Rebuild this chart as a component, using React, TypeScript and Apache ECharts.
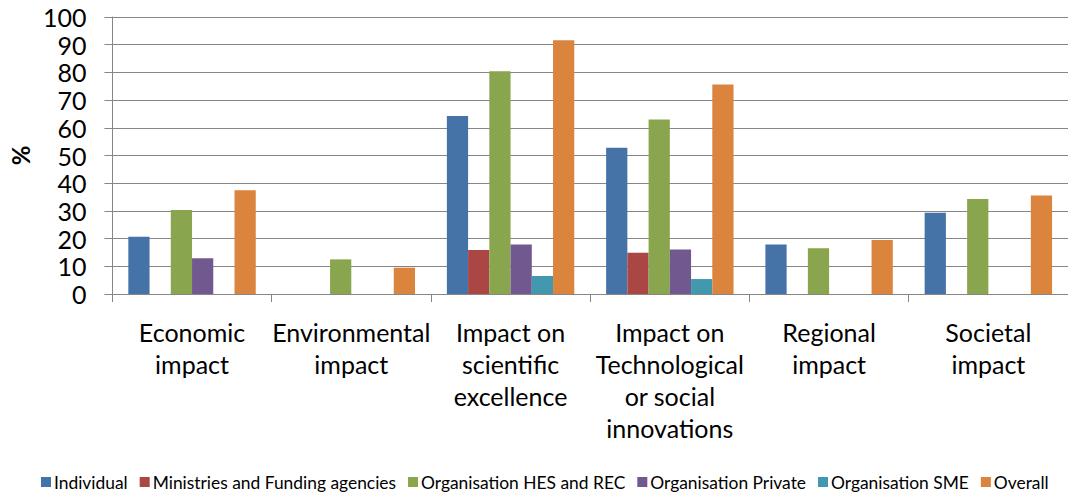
import React, { useEffect, useRef } from "react";
import * as echarts from "echarts";

const categories = [
  "Economic\nimpact",
  "Environmental\nimpact",
  "Impact on\nscientific\nexcellence",
  "Impact on\nTechnological\nor social\ninnovations",
  "Regional\nimpact",
  "Societal\nimpact",
];

const seriesNames = [
  "Individual",
  "Ministries and Funding agencies",
  "Organisation HES and REC",
  "Organisation Private",
  "Organisation SME",
  "Overall",
];

const individual = [20.7, 0, 64.3, 52.8, 17.9, 29.3];
const ministries = [0, 0, 15.9, 14.9, 0, 0];
const hesRec = [30.3, 12.5, 80.4, 63.0, 16.5, 34.3];
const orgPrivate = [12.9, 0, 17.9, 16.1, 0, 0];
const orgSme = [0, 0, 6.5, 5.4, 0, 0];
const overall = [37.5, 9.5, 91.6, 75.6, 19.5, 35.6];

const yTicks = { min: 0, max: 100, interval: 10 };

const colors = ["#4572A7", "#AA4643", "#89A54E", "#71588F", "#4198AF", "#DB843D"];

const FONT = "Lato, 'Open Sans', sans-serif";

export default function App() {
  const ref = useRef<HTMLDivElement>(null);
  useEffect(() => {
    document.body.style.margin = "0";
    document.body.style.overflow = "hidden";
    if (!ref.current) return;
    const chart = echarts.init(ref.current, undefined, { renderer: "svg" });
    const values = [individual, ministries, hesRec, orgPrivate, orgSme, overall];
    chart.setOption({
      animation: false,
      color: colors,
      grid: { left: 108, right: 0, top: 17, bottom: 199, containLabel: false },
      legend: {
        data: seriesNames,
        left: 36,
        top: 468,
        itemWidth: 10,
        itemHeight: 10,
        itemGap: 12,
        icon: "rect",
        textStyle: { fontFamily: FONT, fontSize: 17.4, lineHeight: 18, color: "#000", padding: [0, 0, 0, -2] },
      },
      xAxis: {
        type: "category",
        data: categories,
        axisLine: { show: true, lineStyle: { color: "#868686", width: 1 } },
        axisTick: { show: true, length: 8, lineStyle: { color: "#868686" } },
        axisLabel: {
          interval: 0,
          margin: 22,
          fontFamily: FONT,
          fontSize: 25,
          lineHeight: 32,
          color: "#000",
        },
      },
      yAxis: {
        type: "value",
        min: yTicks.min,
        max: yTicks.max,
        interval: yTicks.interval,
        name: "%",
        nameLocation: "middle",
        nameRotate: 90,
        nameGap: 78,
        nameTextStyle: { fontFamily: FONT, fontSize: 24, fontWeight: "bold", color: "#000" },
        axisLine: { show: true, lineStyle: { color: "#868686", width: 1 } },
        axisTick: { show: true, length: 8, lineStyle: { color: "#868686" } },
        splitLine: { show: true, lineStyle: { color: "#868686", width: 1 } },
        axisLabel: { fontFamily: FONT, fontSize: 25, lineHeight: 24, color: "#000", margin: 26 },
      },
      series: seriesNames.map((name, i) => ({
        name,
        type: "bar",
        data: values[i],
        barGap: "0%",
        barCategoryGap: "20%",
        itemStyle: { color: colors[i] },
      })),
    });
    return () => chart.dispose();
  }, []);
  return (
    <div
      ref={ref}
      style={{ position: "absolute", left: 0, top: 0, width: 1068, height: 493 }}
    />
  );
}
